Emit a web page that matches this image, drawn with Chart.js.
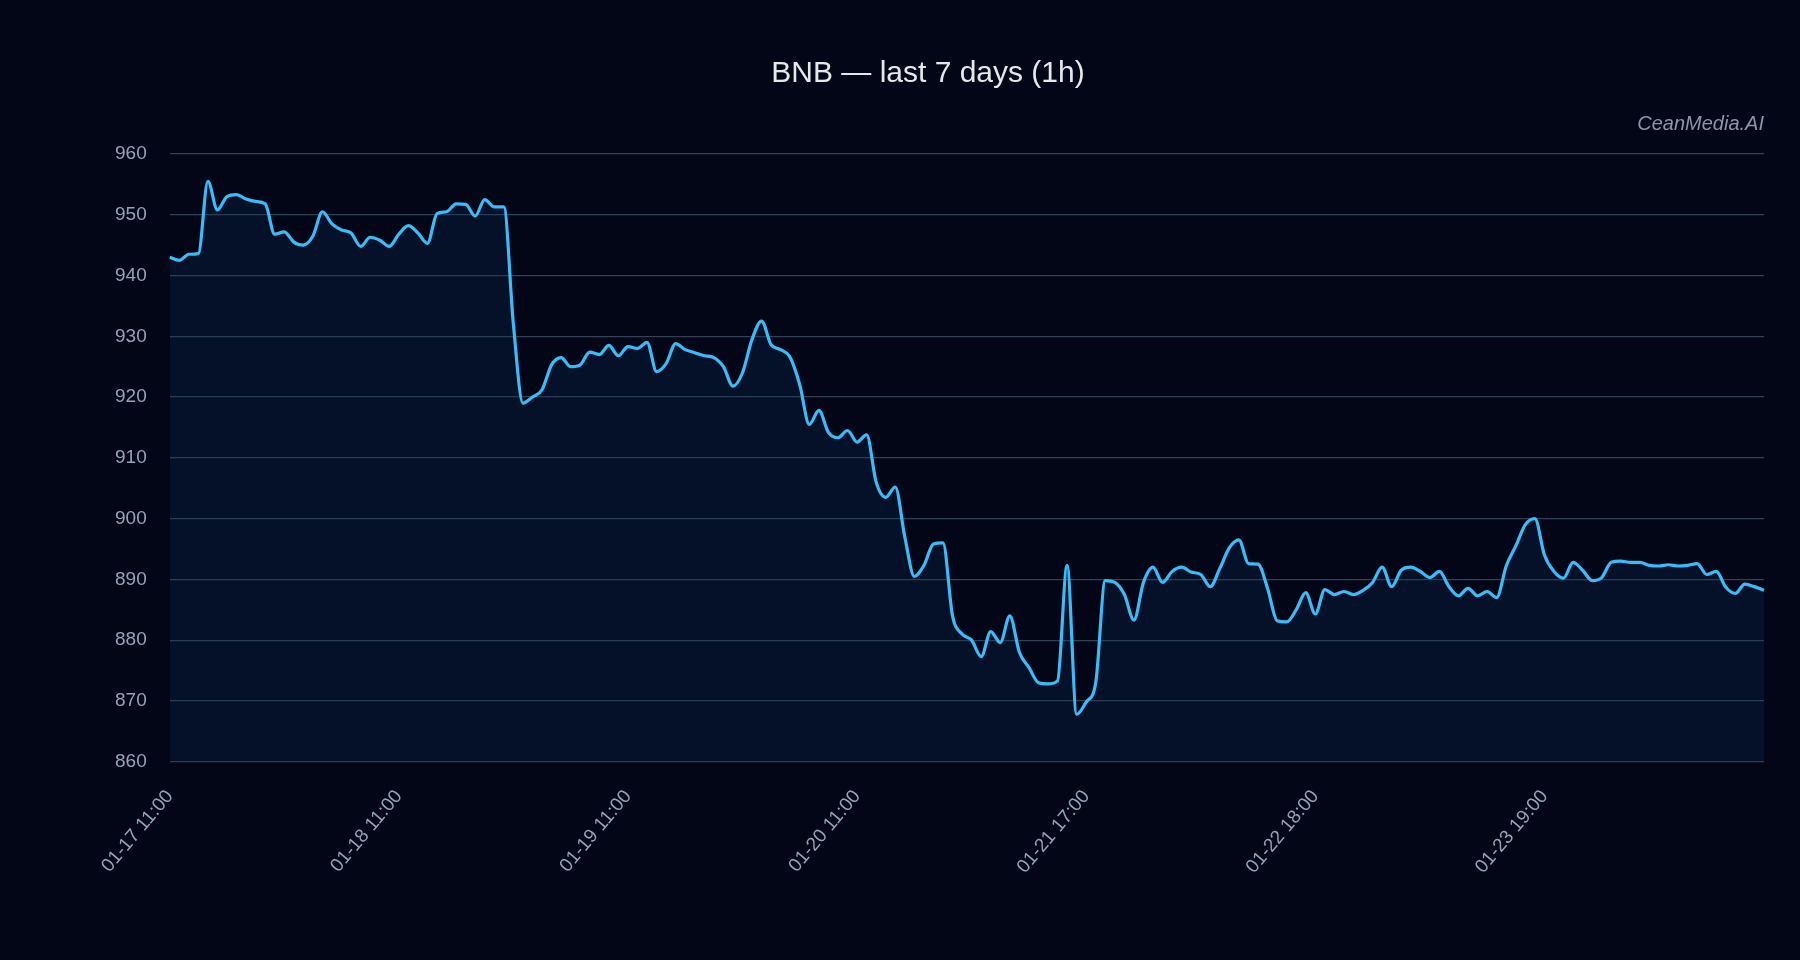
<!DOCTYPE html>
<html><head><meta charset="utf-8">
<script src="https://cdn.jsdelivr.net/npm/chart.js@4.4.1/dist/chart.umd.min.js"></script>
<style>html,body{margin:0;background:#020617;}#w{width:1800px;height:960px;}</style>
</head><body><div id="w"><canvas id="c"></canvas></div>
<script>
const prices = [
943,942.5,943.5,943.6,955.5,950.8,953,953.3,952.6,952.2,951.8,946.8,947.2,945.5,945,946.5,950.5,948.5,947.5,947,
944.8,946.3,945.8,944.8,946.8,948.2,947,945.3,950.2,950.5,951.8,951.7,949.8,952.5,951.3,951.3,932,919,920,921.2,
925.3,926.5,925,925.3,927.4,927,928.5,926.8,928.3,928,929,924.2,925.5,928.8,927.8,927.3,926.8,926.5,925,921.8,
924,929.5,932.5,928.6,927.8,926.5,922,915.5,917.8,914.2,913.3,914.5,912.6,913.8,906,903.5,905.2,897,890.5,892.3,
895.8,896,884,881,880,877.3,881.4,879.6,884,878,875.5,873,872.8,873.3,892.3,867.8,869.8,873,889.8,889.5,
887.5,883.3,889.5,892,889.5,891.3,892,891.2,890.8,888.8,891.8,895.2,896.5,892.6,892.5,888.5,883.2,883,885,887.8,
884.3,888.3,887.5,888,887.5,888.2,889.5,892,888.8,891.5,892,891.3,890.3,891.3,888.8,887.3,888.5,887.3,888,887,
892.2,895.5,899,900,894,891.3,890.2,892.8,891.5,889.8,890.3,892.8,893,892.8,892.8,892.3,892.2,892.4,892.2,892.3,
892.6,890.8,891.3,888.7,887.7,889.2,888.8,888.2];
// hourly timestamps; hour offsets where data has gaps
const startTime = '2025-01-17T11:00:00';
const gapsAtIndex = {95: 6, 110: 1, 130: 1};
const labels = [];
(function(){let t=new Date(startTime).getTime();for(let i=0;i<prices.length;i++){if(i>0)t+=3600e3*(1+(gapsAtIndex[i]||0));const d=new Date(t);const p=n=>String(n).padStart(2,'0');labels.push(p(d.getMonth()+1)+'-'+p(d.getDate())+' '+p(d.getHours())+':00');}})();
const yTicks = {min:860,max:960,step:10};
const font = "'Liberation Sans', Arial, sans-serif";
const watermark = {id:'wm',afterDraw(ch){const c=ch.ctx;c.save();c.font="italic 20px "+font;c.fillStyle='#8b95a7';c.textAlign='right';c.textBaseline='bottom';c.fillText('CeanMedia.AI',ch.chartArea.right,ch.chartArea.top-20);c.restore();}};
new Chart(document.getElementById('c'),{type:'line',
data:{labels,datasets:[{data:prices,borderColor:'#38bdf8',borderWidth:3.2,backgroundColor:'rgba(14,50,90,0.25)',fill:'start',pointRadius:0,tension:0.4,cubicInterpolationMode:'monotone'}]},
options:{responsive:true,maintainAspectRatio:false,animation:false,
layout:{padding:{left:92,right:36,top:40,bottom:66}},
plugins:{legend:{display:false},tooltip:{enabled:false},
title:{display:true,text:'BNB — last 7 days (1h)',color:'#e5e7eb',font:{family:font,size:30,weight:'normal'},padding:{top:16,bottom:62}}},
scales:{x:{grid:{display:false},border:{display:false},ticks:{autoSkip:false,padding:16,maxRotation:50,minRotation:50,color:'#94a3b8',font:{family:font,size:19},callback:(v,i)=>i%24===0?labels[i]:null}},
y:{min:yTicks.min,max:yTicks.max,grid:{color:'#334155',lineWidth:1.2,drawTicks:false},border:{display:false},ticks:{stepSize:yTicks.step,color:'#94a3b8',padding:23,font:{family:font,size:19}}}}},
plugins:[watermark]});
</script></body></html>
